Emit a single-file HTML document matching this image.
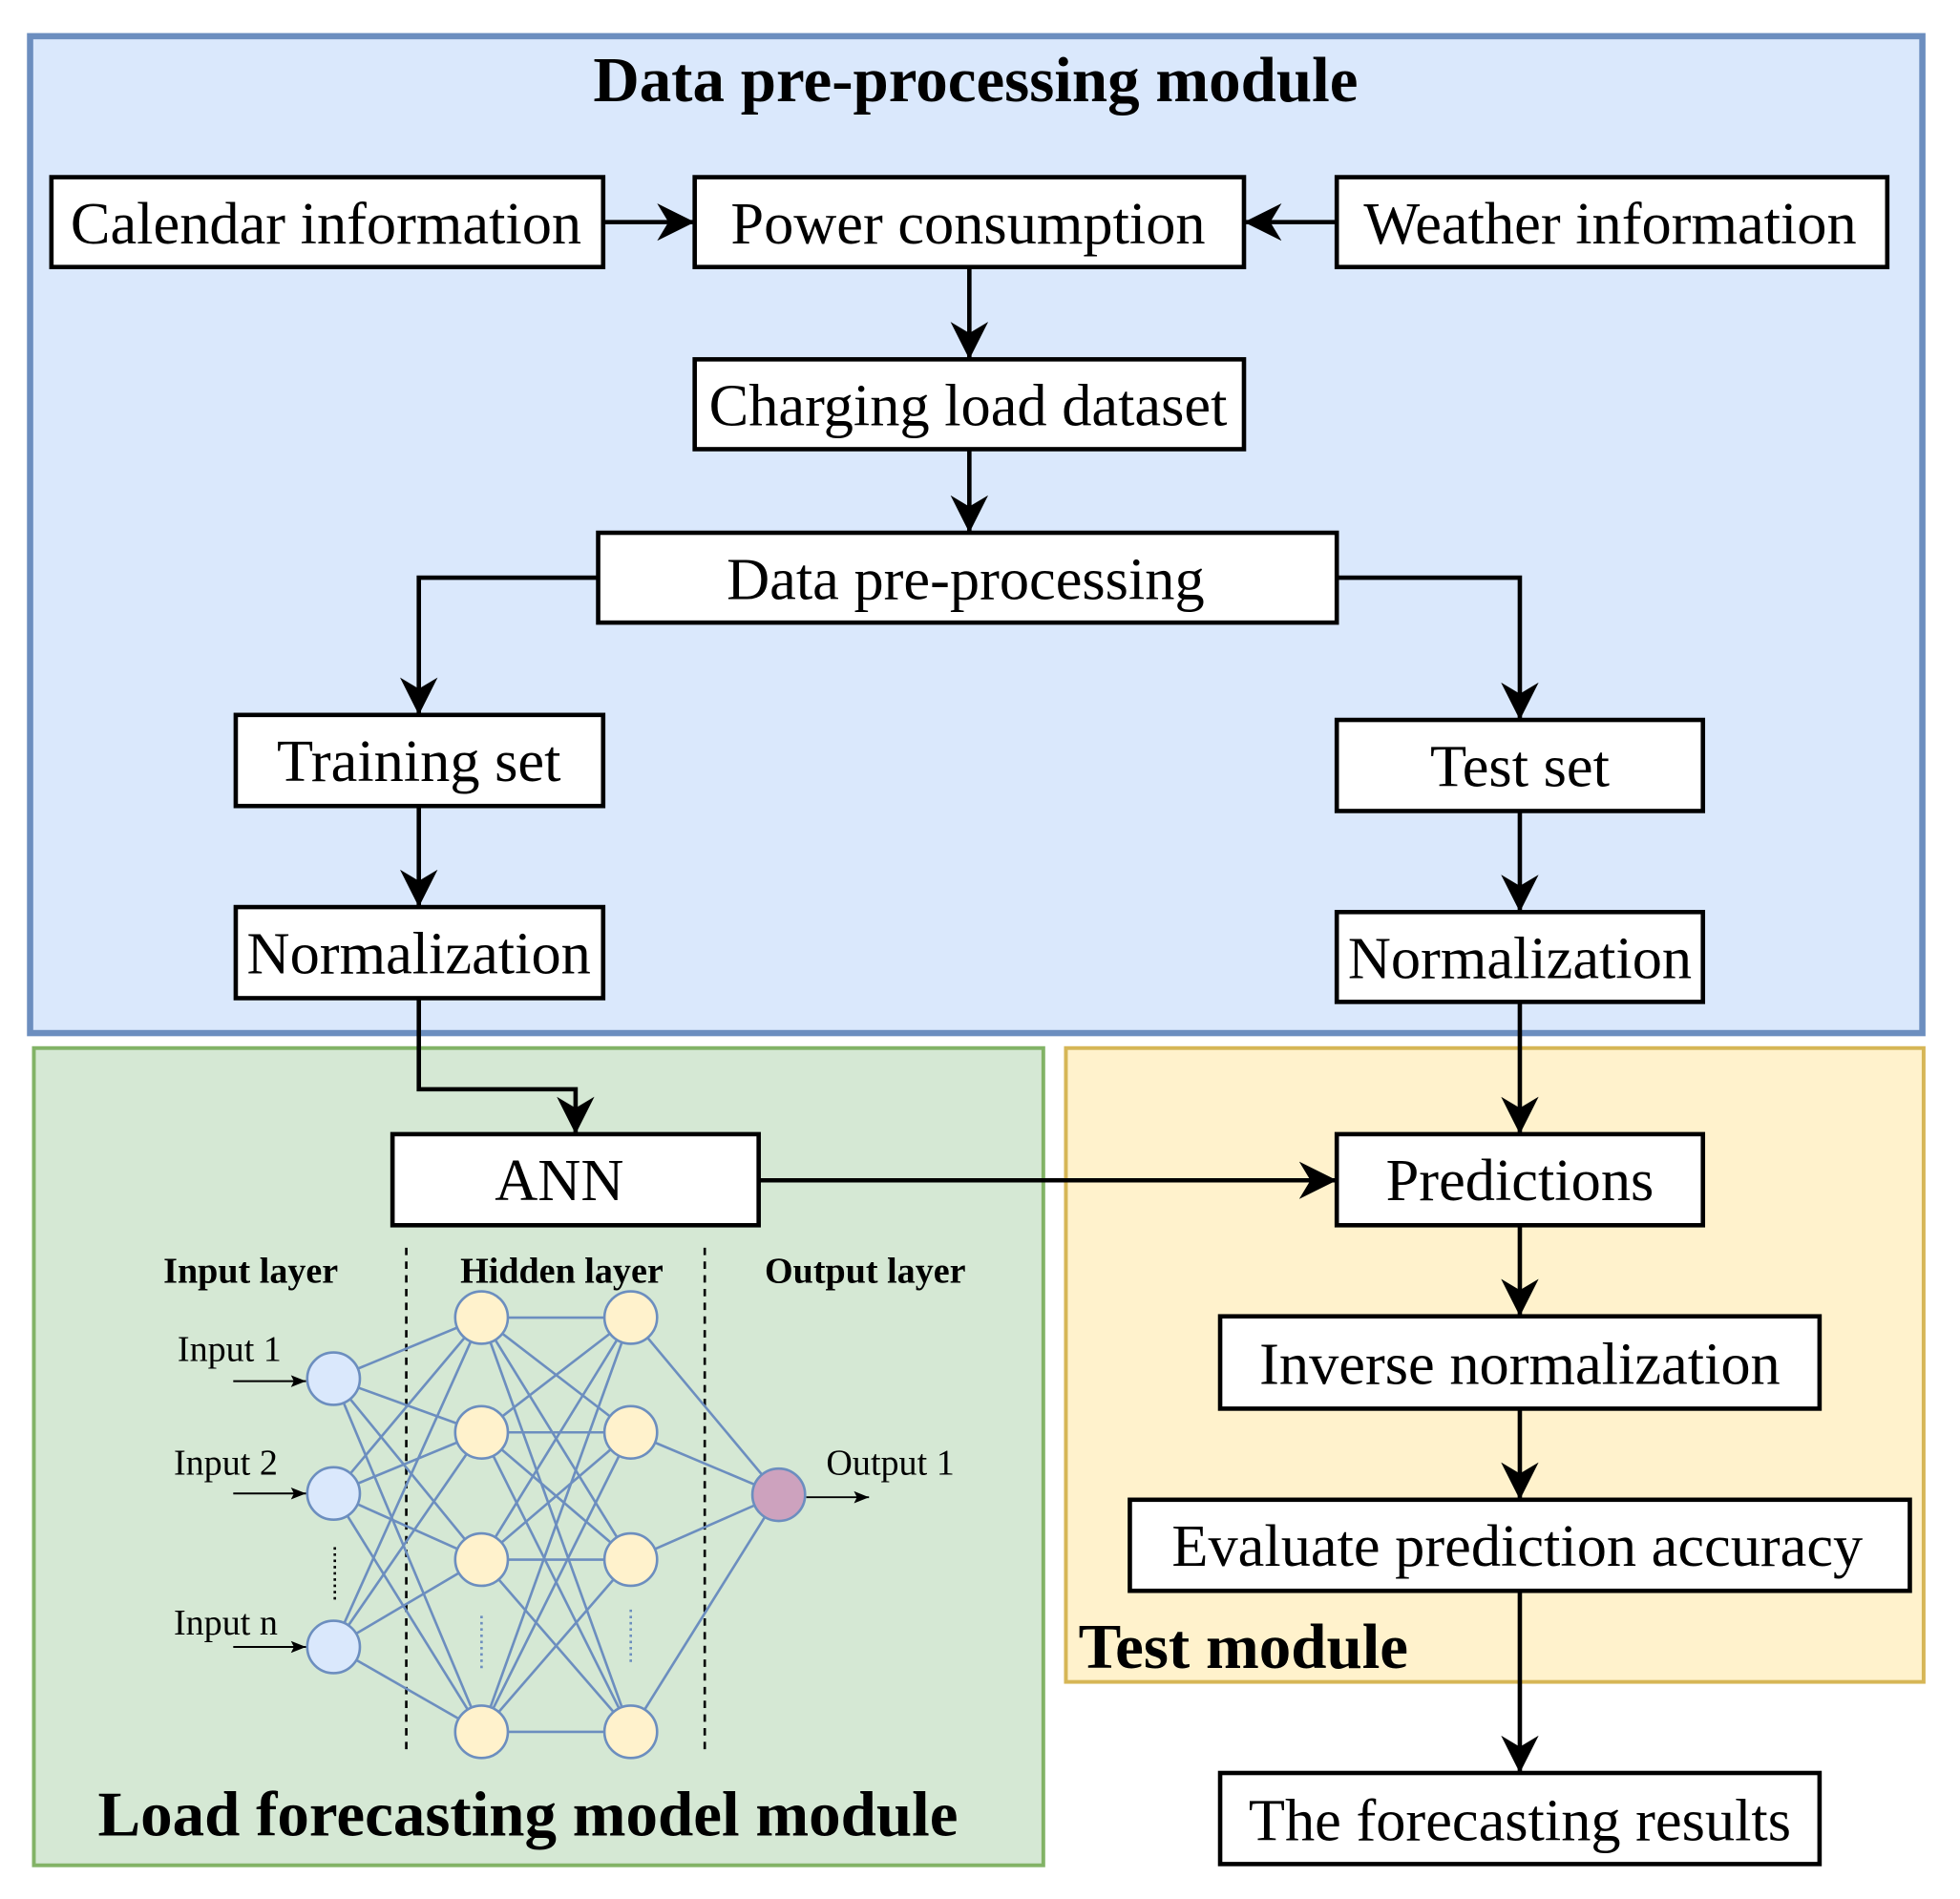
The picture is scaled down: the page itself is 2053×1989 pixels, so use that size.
<!DOCTYPE html>
<html><head><meta charset="utf-8"><style>
html,body{margin:0;padding:0;background:#fff;}
svg{display:block;}
text{font-family:"Liberation Serif",serif;}
</style></head><body>
<svg width="2053" height="1989" viewBox="0 0 1563 1522" preserveAspectRatio="none" xmlns="http://www.w3.org/2000/svg">
<defs>
<marker id="a" viewBox="0 0 10 10" refX="10" refY="5" markerWidth="30" markerHeight="30" markerUnits="userSpaceOnUse" orient="auto">
<path d="M0,0 L10,5 L0,10 L3,5 z" fill="#000"/></marker>
<marker id="b" viewBox="0 0 10 10" refX="10" refY="5" markerWidth="12" markerHeight="12" orient="auto" markerUnits="userSpaceOnUse">
<path d="M0,1 L10,5 L0,9 L2,5 z" fill="#000"/></marker>
</defs>
<rect x="24" y="29" width="1509" height="799" fill="#dae8fc" stroke="#6c8ebf" stroke-width="5"/>
<rect x="27" y="840" width="805" height="655" fill="#d5e8d4" stroke="#82b366" stroke-width="3"/>
<rect x="850" y="840" width="684" height="508" fill="#fff2cc" stroke="#d6b656" stroke-width="3"/>
<text x="778" y="81" font-size="51" font-weight="bold" text-anchor="middle">Data pre-processing module</text>
<text x="860" y="1337" font-size="51" font-weight="bold">Test module</text>
<text x="421" y="1471" font-size="51" font-weight="bold" text-anchor="middle">Load forecasting model module</text>

<g fill="none" stroke="#000" stroke-width="3.5">
<path d="M481,178 H554" marker-end="url(#a)"/>
<path d="M1066,178 H992" marker-end="url(#a)"/>
<path d="M773,214 V288" marker-end="url(#a)"/>
<path d="M773,360 V427" marker-end="url(#a)"/>
<path d="M477,463 H334 V573" marker-end="url(#a)"/>
<path d="M1066,463 H1212 V577" marker-end="url(#a)"/>
<path d="M334,646 V727" marker-end="url(#a)"/>
<path d="M1212,650 V731" marker-end="url(#a)"/>
<path d="M334,800 V873 H459 V909" marker-end="url(#a)"/>
<path d="M1212,803 V909" marker-end="url(#a)"/>
<path d="M605,946 H1066" marker-end="url(#a)"/>
<path d="M1212,982 V1055" marker-end="url(#a)"/>
<path d="M1212,1129 V1202" marker-end="url(#a)"/>
<path d="M1212,1275 V1421" marker-end="url(#a)"/>
</g>
<style>.bx{fill:#fff;stroke:#000;stroke-width:3.5}.t{font-size:47.5px;text-anchor:middle}</style>
<rect class="bx" x="41" y="142" width="440" height="72"/><text class="t" x="260" y="195">Calendar information</text>
<rect class="bx" x="554" y="142" width="438" height="72"/><text class="t" x="772" y="195">Power consumption</text>
<rect class="bx" x="1066" y="142" width="439" height="72"/><text class="t" x="1284" y="195">Weather information</text>
<rect class="bx" x="554" y="288" width="438" height="72"/><text class="t" x="772" y="341">Charging load dataset</text>
<rect class="bx" x="477" y="427" width="589" height="72"/><text class="t" x="770" y="480">Data pre-processing</text>
<rect class="bx" x="188" y="573" width="293" height="73"/><text class="t" x="334" y="626">Training set</text>
<rect class="bx" x="1066" y="577" width="292" height="73"/><text class="t" x="1212" y="630">Test set</text>
<rect class="bx" x="188" y="727" width="293" height="73"/><text class="t" x="334" y="780">Normalization</text>
<rect class="bx" x="1066" y="731" width="292" height="72"/><text class="t" x="1212" y="784">Normalization</text>
<rect class="bx" x="313" y="909" width="292" height="73"/><text class="t" x="446" y="962">ANN</text>
<rect class="bx" x="1066" y="909" width="292" height="73"/><text class="t" x="1212" y="962">Predictions</text>
<rect class="bx" x="973" y="1055" width="478" height="74"/><text class="t" x="1212" y="1109">Inverse normalization</text>
<rect class="bx" x="901" y="1202" width="622" height="73"/><text class="t" x="1210" y="1255">Evaluate prediction accuracy</text>
<rect class="bx" x="973" y="1421" width="478" height="73"/><text class="t" x="1212" y="1475">The forecasting results</text>

<g stroke="#000" stroke-width="2" stroke-dasharray="6,5">
<line x1="324" y1="1000" x2="324" y2="1403"/><line x1="562" y1="1000" x2="562" y2="1403"/>
</g>
<g font-size="29" font-weight="bold" text-anchor="middle">
<text x="200" y="1028">Input layer</text><text x="448" y="1028">Hidden layer</text><text x="690" y="1028">Output layer</text>
</g>
<g font-size="29" text-anchor="middle">
<text x="183" y="1091">Input 1</text><text x="180" y="1182">Input 2</text><text x="180" y="1310">Input n</text><text x="710" y="1182">Output 1</text>
</g>
<g stroke="#000" stroke-width="1.5" fill="none">
<path d="M186,1107 H244" marker-end="url(#b)"/>
<path d="M186,1197 H244" marker-end="url(#b)"/>
<path d="M186,1320 H244" marker-end="url(#b)"/>
<path d="M643,1200 H693" marker-end="url(#b)"/>
</g>
<g stroke="#6c8ebf" stroke-width="2">
<line x1="266" y1="1105" x2="384" y2="1056"/><line x1="266" y1="1105" x2="384" y2="1148"/><line x1="266" y1="1105" x2="384" y2="1250"/><line x1="266" y1="1105" x2="384" y2="1388"/>
<line x1="266" y1="1197" x2="384" y2="1056"/><line x1="266" y1="1197" x2="384" y2="1148"/><line x1="266" y1="1197" x2="384" y2="1250"/><line x1="266" y1="1197" x2="384" y2="1388"/>
<line x1="266" y1="1320" x2="384" y2="1056"/><line x1="266" y1="1320" x2="384" y2="1148"/><line x1="266" y1="1320" x2="384" y2="1250"/><line x1="266" y1="1320" x2="384" y2="1388"/>
<line x1="384" y1="1056" x2="503" y2="1056"/><line x1="384" y1="1056" x2="503" y2="1148"/><line x1="384" y1="1056" x2="503" y2="1250"/><line x1="384" y1="1056" x2="503" y2="1388"/>
<line x1="384" y1="1148" x2="503" y2="1056"/><line x1="384" y1="1148" x2="503" y2="1148"/><line x1="384" y1="1148" x2="503" y2="1250"/><line x1="384" y1="1148" x2="503" y2="1388"/>
<line x1="384" y1="1250" x2="503" y2="1056"/><line x1="384" y1="1250" x2="503" y2="1148"/><line x1="384" y1="1250" x2="503" y2="1250"/><line x1="384" y1="1250" x2="503" y2="1388"/>
<line x1="384" y1="1388" x2="503" y2="1056"/><line x1="384" y1="1388" x2="503" y2="1148"/><line x1="384" y1="1388" x2="503" y2="1250"/><line x1="384" y1="1388" x2="503" y2="1388"/>
<line x1="503" y1="1056" x2="621" y2="1198"/><line x1="503" y1="1148" x2="621" y2="1198"/><line x1="503" y1="1250" x2="621" y2="1198"/><line x1="503" y1="1388" x2="621" y2="1198"/>
</g>
<g stroke-width="2" stroke-dasharray="2,3">
<line x1="267" y1="1240" x2="267" y2="1282" stroke="#000"/>
<line x1="384" y1="1295" x2="384" y2="1340" stroke="#6c8ebf"/>
<line x1="503" y1="1290" x2="503" y2="1335" stroke="#6c8ebf"/>
</g>
<g stroke="#6c8ebf" stroke-width="2">
<circle cx="266" cy="1105" r="21" fill="#dae8fc"/><circle cx="266" cy="1197" r="21" fill="#dae8fc"/><circle cx="266" cy="1320" r="21" fill="#dae8fc"/>
<circle cx="384" cy="1056" r="21" fill="#fff2cc"/><circle cx="384" cy="1148" r="21" fill="#fff2cc"/><circle cx="384" cy="1250" r="21" fill="#fff2cc"/><circle cx="384" cy="1388" r="21" fill="#fff2cc"/>
<circle cx="503" cy="1056" r="21" fill="#fff2cc"/><circle cx="503" cy="1148" r="21" fill="#fff2cc"/><circle cx="503" cy="1250" r="21" fill="#fff2cc"/><circle cx="503" cy="1388" r="21" fill="#fff2cc"/>
<circle cx="621" cy="1198" r="21" fill="#cda2be"/>
</g>
</svg>
</body></html>
